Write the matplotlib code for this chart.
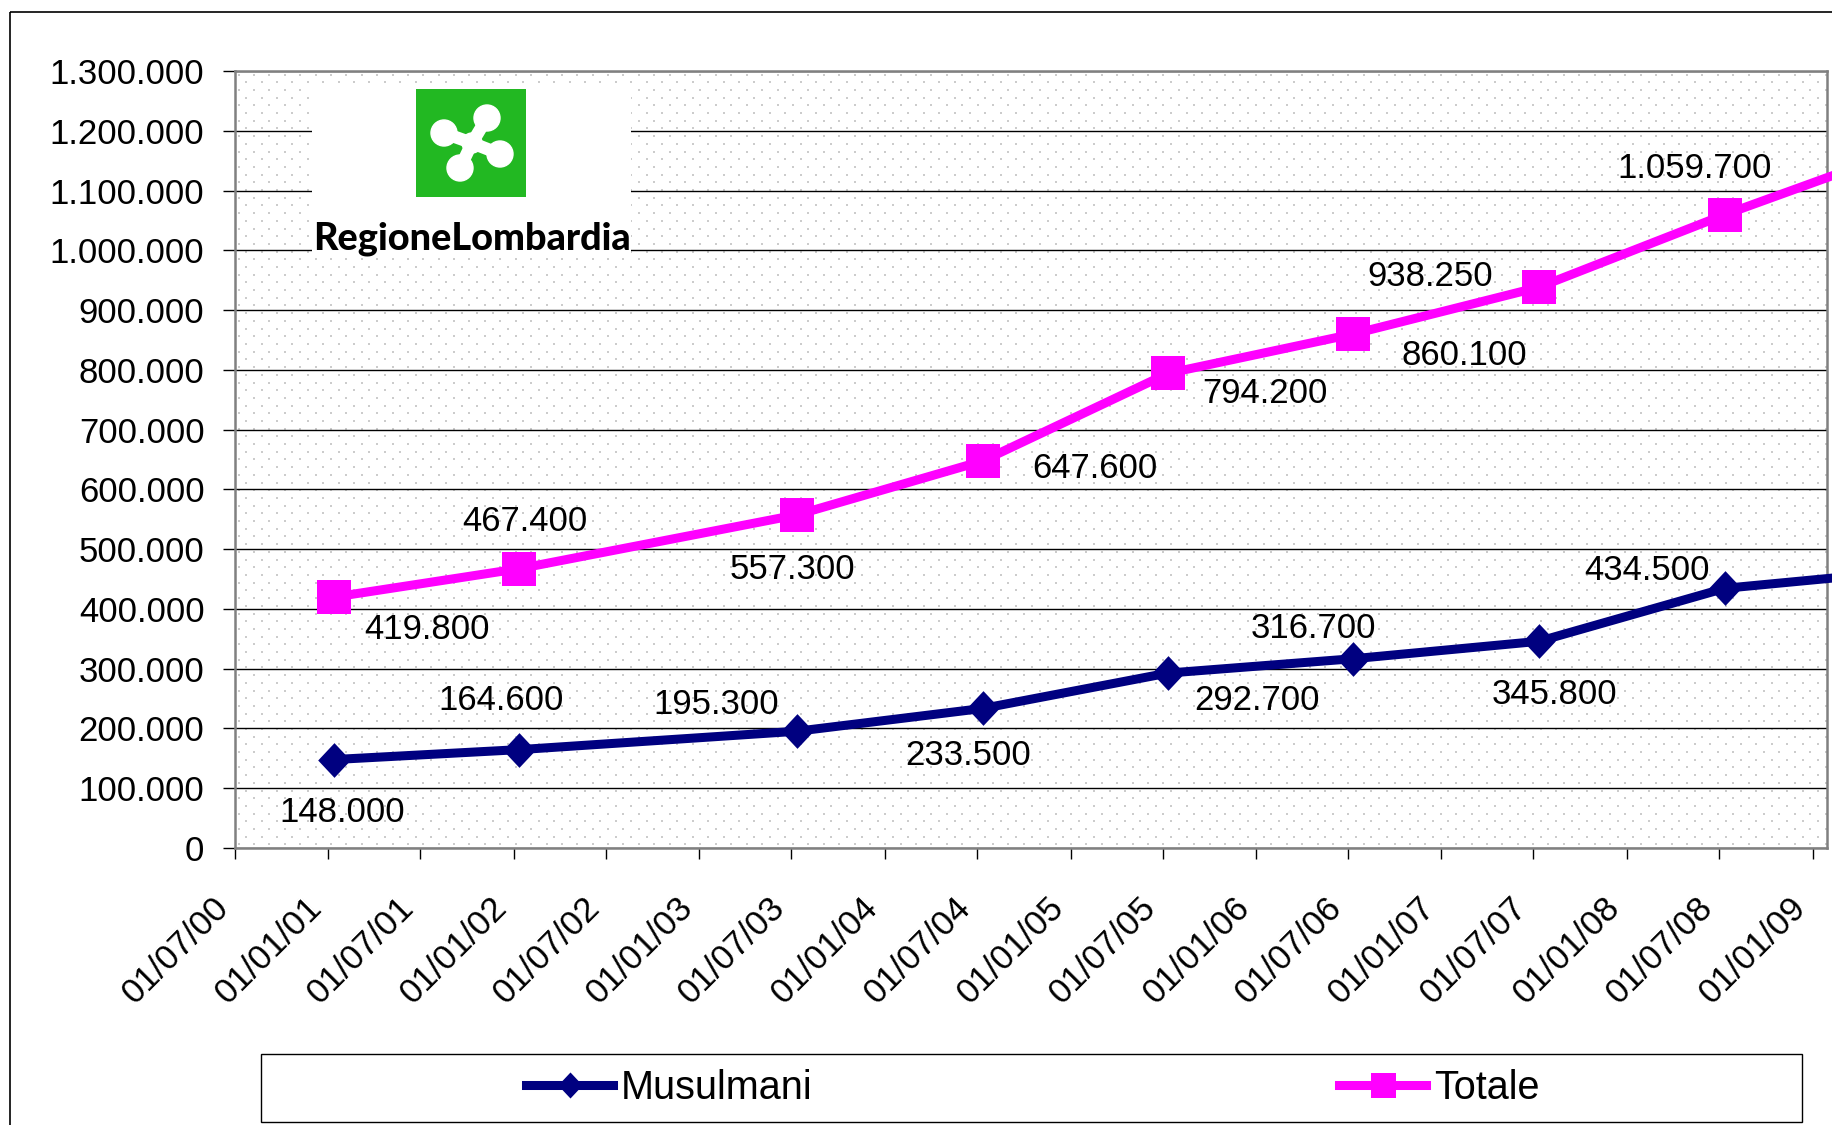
import datetime as dt

import matplotlib
matplotlib.use("Agg")
import matplotlib.pyplot as plt
import matplotlib.dates as mdates
import numpy as np
from matplotlib.patches import Rectangle, Circle
from matplotlib.ticker import FuncFormatter, MultipleLocator
from matplotlib.transforms import ScaledTranslation

plt.rcParams['font.family'] = ['Liberation Sans', 'DejaVu Sans']

# Data (the last point lies past the right edge of the original picture)
dates = [dt.date(2001, 1, 1), dt.date(2002, 1, 1), dt.date(2003, 7, 1), dt.date(2004, 7, 1),
         dt.date(2005, 7, 1), dt.date(2006, 7, 1), dt.date(2007, 7, 1), dt.date(2008, 7, 1),
         dt.date(2009, 7, 1)]
musulmani = [148000, 164600, 195300, 233500, 292700, 316700, 345800, 434500, 464000]
totale = [419800, 467400, 557300, 647600, 794200, 860100, 938250, 1059700, 1172000]
n_labelled = 8

# where each value label sits relative to its point (pixels)
totale_offsets = [(93, -32), (5, 47), (-4, -55), (112, -8), (97, -20), (111, -22), (-109, 11), (-30, 46)]
musulmani_offsets = [(8, -53), (-18, 49), (-81, 27), (-15, -47), (89, -27), (-40, 30), (16, -53), (-78, 18)]

W, H = 1832, 1125
fig = plt.figure(figsize=(W / 100, H / 100), dpi=100)
ax = fig.add_axes([235 / W, 1 - 848 / H, (1827 - 235) / W, (848 - 71) / H])

# Excel draws the points a little right of the month tick
shifted = ax.transData + ScaledTranslation(0.055, 0, fig.dpi_scale_trans)

# dotted pattern fill of the plot area
pw, ph = 1592, 777
bg = np.ones((ph, pw, 3))
for i, y in enumerate(np.arange(3, ph - 1, 7.7)):
    for x in np.arange(3 + (i % 2) * 7.7, pw - 1, 15.4):
        bg[int(y):int(y) + 2, int(x):int(x) + 2] = 0.8
ax.imshow(bg, extent=[0, 1, 0, 1], transform=ax.transAxes, aspect='auto',
          interpolation='nearest', zorder=0)

diamond = [(0, 1), (0.94, 0), (0, -1), (-0.94, 0), (0, 1)]
ax.plot(dates, musulmani, color='#000080', lw=6.5, marker=diamond, ms=25, mew=0,
        clip_on=False, zorder=4, label='Musulmani', transform=shifted)
ax.plot(dates, totale, color='#FF00FF', lw=6.5, marker='s', ms=24, mew=0,
        clip_on=False, zorder=4, label='Totale', transform=shifted)

def fmt(v):
    return f"{int(v):,}".replace(',', '.')

for d, v, off in zip(dates[:n_labelled], totale[:n_labelled], totale_offsets):
    ax.annotate(fmt(v), (mdates.date2num(d), v), xycoords=shifted, xytext=off,
                textcoords='offset pixels', ha='center', va='center', fontsize=25)
for d, v, off in zip(dates[:n_labelled], musulmani[:n_labelled], musulmani_offsets):
    ax.annotate(fmt(v), (mdates.date2num(d), v), xycoords=shifted, xytext=off,
                textcoords='offset pixels', ha='center', va='center', fontsize=25)

ax.set_xlim(dt.date(2000, 7, 1), dt.date(2009, 1, 29))
ax.set_ylim(0, 1300000)
ax.yaxis.set_major_locator(MultipleLocator(100000))
ax.yaxis.set_major_formatter(FuncFormatter(lambda v, p: fmt(v)))
ax.xaxis.set_major_locator(mdates.MonthLocator(bymonth=[1, 7]))
ax.xaxis.set_major_formatter(mdates.DateFormatter('%d/%m/%y'))
ax.yaxis.grid(True, color='black', lw=1)
ax.tick_params(axis='y', direction='out', length=9, width=1, pad=13, labelsize=25)
ax.tick_params(axis='x', direction='out', length=8, width=1, pad=23, labelsize=25)
plt.setp(ax.get_xticklabels(), rotation=45, ha='right')
for s in ax.spines.values():
    s.set_color('#808080')
    s.set_linewidth(1.8)

ax.legend(loc='center', bbox_to_anchor=(1033 / W, 1 - 1088 / H), bbox_transform=fig.transFigure,
          ncol=2, frameon=False, fontsize=28.5, columnspacing=13.3, handlelength=2.2,
          handletextpad=0.2, markerscale=0.75)

# overlay in pixel coordinates for frame, legend box and logo
ov = fig.add_axes([0, 0, 1, 1], zorder=10)
ov.set_xlim(0, W)
ov.set_ylim(H, 0)
ov.axis('off')
ov.add_patch(Rectangle((9.5, 11.5), 2000, 2000, fill=False, edgecolor='black', lw=1.2))
ov.add_patch(Rectangle((261, 1054), 1541, 68, fill=False, edgecolor='black', lw=1.0))

# Regione Lombardia logo
ov.add_patch(Rectangle((312, 87), 319, 171, facecolor='white', edgecolor='none'))
ov.add_patch(Rectangle((416, 89), 110, 108, facecolor='#22B822', edgecolor='none'))
cx, cy = 472, 143
for px, py in [(487, 118), (444, 133), (460, 168), (500, 154)]:
    ov.plot([cx, px], [cy, py], color='white', lw=9, solid_capstyle='round')
    ov.add_patch(Circle((px, py), 13, color='white'))
ov.add_patch(Circle((cx, cy), 10, color='white'))
logo = ov.text(471.5, 250, 'RegioneLombardia', ha='center', va='baseline',
               fontsize=24, fontweight='black', family=['Lato', 'DejaVu Sans'])
fig.canvas.draw()
bb = logo.get_window_extent()
logo.set_fontsize(24 * 319 / bb.width)

fig.savefig('out.png', dpi=100)
